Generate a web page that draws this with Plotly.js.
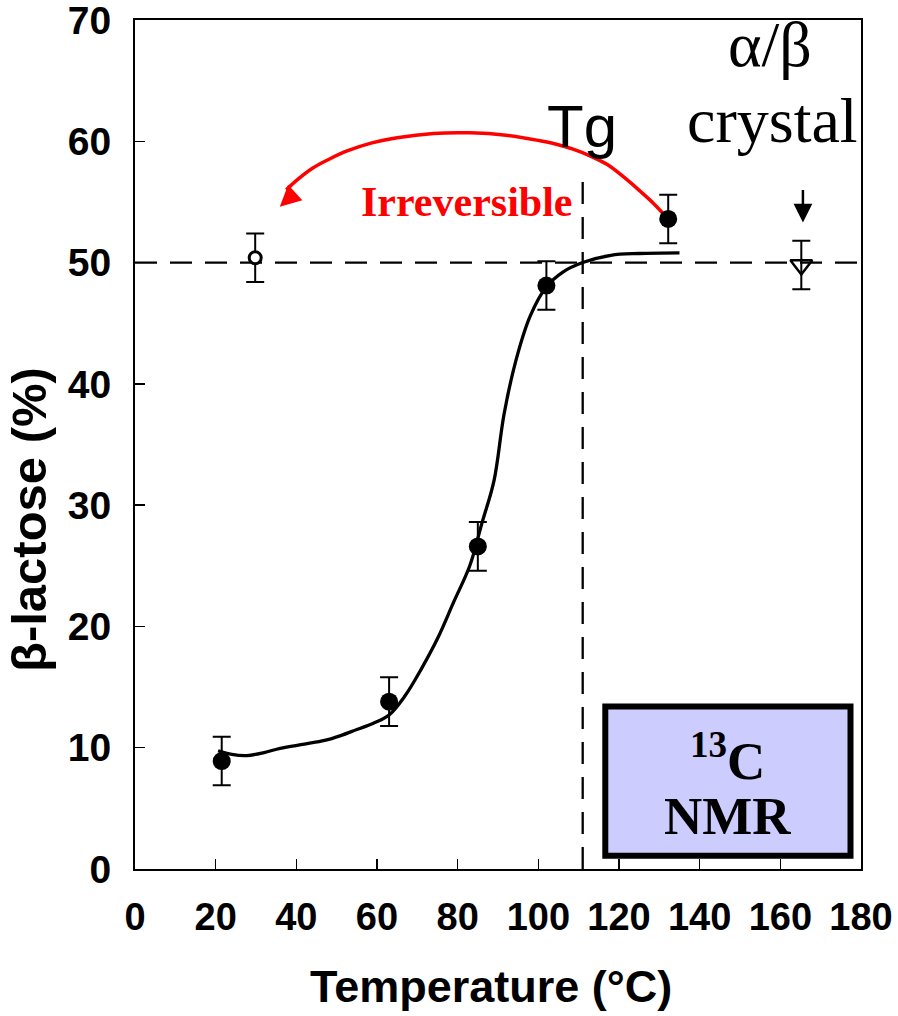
<!DOCTYPE html>
<html>
<head>
<meta charset="utf-8">
<script src="https://cdn.plot.ly/plotly-3.0.1.min.js"></script>
<style>html,body{margin:0;padding:0;background:#fff;}#chart{width:898px;height:1016px;}</style>
</head>
<body>
<div id="chart"></div>
<script>
// Measured points (filled circles)
const tempMeasured = [21.5, 63, 85, 102, 132.2];
const betaMeasured = [8.9, 13.8, 26.6, 48.1, 53.6];
const errMeasured = [2, 2, 2, 2, 2];
// Re-cooled sample (open circle)
const tempCooled = [29.8];
const betaCooled = [50.4];
const errCooled = [2];
// alpha/beta crystal (open down-triangle)
const tempCrystal = [165.2];
const betaCrystal = [49.8];
const errCrystal = [2];
// Fitted sigmoid curve
const curveX = [20.6, 24, 27.7, 32, 36, 42, 47, 51, 55, 59, 63, 67, 71, 75, 79, 83, 86, 89, 91.5, 94.5, 98, 102, 106, 111, 118, 125, 135];
const curveY = [9.75, 9.45, 9.35, 9.6, 9.95, 10.3, 10.6, 11.0, 11.5, 12.0, 12.7, 14.3, 16.5, 19.0, 22.0, 25.0, 28.5, 32.0, 37.5, 42.0, 45.6, 48.0, 49.2, 50.0, 50.6, 50.75, 50.8];
// Red "irreversible" arc
const arcX = [131.9, 128.5, 125.2, 121, 117.0, 112.8, 108.6, 104, 100.4, 92, 83.1, 74, 65.0, 58.5, 52.6, 48, 44.1, 40.5, 37.5];
const arcY = [53.7, 54.9, 55.9, 57.1, 58.1, 58.8, 59.35, 59.8, 60.05, 60.5, 60.7, 60.65, 60.3, 59.85, 59.2, 58.5, 57.8, 56.9, 56.0];
// Reference levels
const equilibriumLevel = 50;
const tgTemp = 111;
const xTicks = [0, 20, 40, 60, 80, 100, 120, 140, 160, 180];
const yTicks = [0, 10, 20, 30, 40, 50, 60, 70];

const dash = '22px,13px';
const sans = 'Liberation Sans, Arial, sans-serif';
const serif = 'Liberation Serif, Times New Roman, serif';

const traces = [
  {x: arcX, y: arcY, mode: 'lines', line: {color: '#ff0000', width: 3.5, shape: 'spline', smoothing: 1}, hoverinfo: 'skip'},
  {x: curveX, y: curveY, mode: 'lines', line: {color: '#000', width: 3.3, shape: 'spline', smoothing: 1}, hoverinfo: 'skip'},
  {x: tempMeasured, y: betaMeasured, mode: 'markers',
   marker: {color: '#000', size: 18, symbol: 'circle'},
   error_y: {type: 'data', array: errMeasured, visible: true, color: '#000', thickness: 2, width: 9}},
  {x: tempCooled, y: betaCooled, mode: 'markers',
   marker: {color: '#fff', size: 12, symbol: 'circle', line: {color: '#000', width: 3}},
   error_y: {type: 'data', array: errCooled, visible: true, color: '#000', thickness: 2, width: 9}},
  {x: tempCrystal, y: betaCrystal, mode: 'markers',
   marker: {color: 'rgba(255,255,255,0)', size: 19, symbol: 'triangle-down', line: {color: '#000', width: 2.5}},
   error_y: {type: 'data', array: errCrystal, visible: true, color: '#000', thickness: 2, width: 9}}
];

const layout = {
  width: 898, height: 1016,
  margin: {l: 135, r: 37, t: 19.5, b: 147},
  paper_bgcolor: '#fff', plot_bgcolor: '#fff',
  showlegend: false,
  xaxis: {
    range: [0, 180], tickvals: xTicks, ticktext: xTicks.map(String),
    showgrid: false, zeroline: false,
    showline: true, linecolor: '#000', linewidth: 2, mirror: true,
    ticks: 'inside', ticklen: 10, tickwidth: 1.5, tickcolor: '#000',
    tickfont: {family: sans, size: 38, color: '#000', weight: 'bold'},
    ticklabelstandoff: 13, ticklabeloverflow: 'allow'
  },
  yaxis: {
    range: [0, 70], tickvals: yTicks, ticktext: yTicks.map(String),
    showgrid: false, zeroline: false,
    showline: true, linecolor: '#000', linewidth: 2, mirror: true,
    ticks: 'inside', ticklen: 10, tickwidth: 1.5, tickcolor: '#000',
    tickfont: {family: sans, size: 39, color: '#000', weight: 'bold'},
    ticklabelstandoff: 14, ticklabeloverflow: 'allow'
  },
  shapes: [
    {type: 'line', xref: 'x', yref: 'y', x0: 0, x1: 180, y0: equilibriumLevel, y1: equilibriumLevel,
     line: {color: '#000', width: 2.3, dash: dash}, layer: 'below'},
    {type: 'line', xref: 'x', yref: 'y', x0: tgTemp, x1: tgTemp, y0: 0, y1: 57.2,
     line: {color: '#000', width: 2.3, dash: dash}, layer: 'below'},
    {type: 'rect', xref: 'x', yref: 'y', x0: 116.6, x1: 177.4, y0: 1.1, y1: 13.4,
     fillcolor: '#ccccff', line: {color: '#000', width: 6}}
  ],
  annotations: [
    {x: -0.147, y: 28.8, xref: 'paper', yref: 'y', xanchor: 'center', yanchor: 'middle',
     text: '<b>β-lactose (%)</b>', showarrow: false,
     textangle: -90, font: {family: sans, size: 49, color: '#000'}},
    {x: 0.49, y: -0.138, xref: 'paper', yref: 'paper', xanchor: 'center', yanchor: 'middle',
     text: '<b>Temperature (°C)</b>', showarrow: false,
     font: {family: sans, size: 45, color: '#000'}},
    {x: 35.9, y: 54.6, xref: 'x', yref: 'y', text: '', showarrow: true, arrowhead: 2, arrowsize: 1.2,
     arrowwidth: 3.5, arrowcolor: '#ff0000', ax: 13, ay: -12},
    {x: 82.3, y: 55.0, xref: 'x', yref: 'y', text: '<b>Irreversible</b>', showarrow: false,
     font: {family: serif, size: 42, color: '#ff0000'}},
    {x: 110.8, y: 61.2, xref: 'x', yref: 'y', text: 'Tg', showarrow: false,
     font: {family: sans, size: 60, color: '#000'}},
    {x: 157.5, y: 68.0, xref: 'x', yref: 'y', text: 'α/β', showarrow: false,
     font: {family: serif, size: 64, color: '#000'}},
    {x: 158.0, y: 61.7, xref: 'x', yref: 'y', text: 'crystal', showarrow: false,
     font: {family: serif, size: 64, color: '#000'}},
    {x: 165.6, y: 53.3, xref: 'x', yref: 'y', text: '', showarrow: true, arrowhead: 2, arrowsize: 1.5,
     arrowwidth: 2.5, arrowcolor: '#000', ax: 0, ay: -34},
    {x: 146.8, y: 9.2, xref: 'x', yref: 'y', text: '<b><sup>13</sup>C</b>', showarrow: false,
     font: {family: serif, size: 53, color: '#000'}},
    {x: 146.8, y: 4.4, xref: 'x', yref: 'y', text: '<b>NMR</b>', showarrow: false,
     font: {family: serif, size: 53, color: '#000'}}
  ]
};

Plotly.newPlot('chart', traces, layout, {displayModeBar: false, staticPlot: true});
</script>
</body>
</html>
